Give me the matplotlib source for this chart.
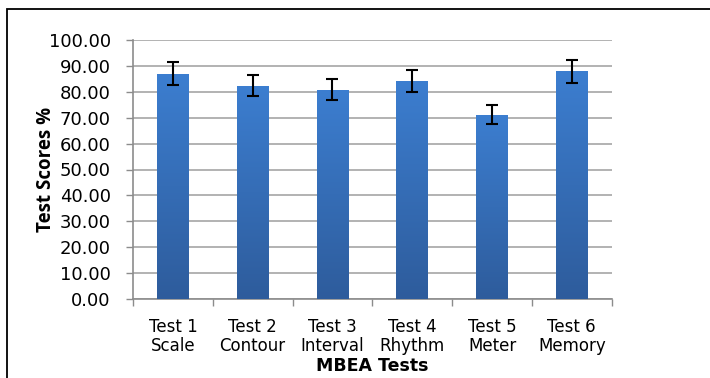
import numpy as np
import matplotlib
matplotlib.use('Agg')
import matplotlib.pyplot as plt
from matplotlib.colors import LinearSegmentedColormap
from matplotlib.patches import Rectangle

tests = ['Test 1\nScale', 'Test 2\nContour', 'Test 3\nInterval',
         'Test 4\nRhythm', 'Test 5\nMeter', 'Test 6\nMemory']
scores = [87.0, 82.4, 80.8, 84.3, 71.2, 87.9]
errors = [4.4, 4.2, 4.0, 4.3, 3.6, 4.4]

plt.rcParams['font.family'] = ['DejaVu Sans']

fig = plt.figure(figsize=(7.1, 3.78), dpi=100)
# document frame around the chart
fig.add_artist(Rectangle((7 / 710, -0.1), 1.2, 1 - 9 / 378 + 0.1,
                         transform=fig.transFigure, fill=False,
                         edgecolor='black', linewidth=1.3))

ax = fig.add_axes([133 / 710, 1 - 299 / 378, (611.7 - 133) / 710, (299 - 40) / 378])
x = np.arange(len(tests))
width = 0.4

cmap = LinearSegmentedColormap.from_list('bar', ['#2e5c9c', '#3c7ed0'])
grad = np.linspace(0, 1, 256).reshape(-1, 1)
bars = ax.bar(x, scores, width, color='none', zorder=3)
for b in bars:
    im = ax.imshow(grad, cmap=cmap, origin='lower', aspect='auto', zorder=3,
                   extent=[b.get_x(), b.get_x() + b.get_width(), 0, b.get_height()])
    im.set_clip_path(b)

ax.errorbar(x, scores, yerr=errors, fmt='none', ecolor='black',
            elinewidth=1.5, capsize=4, capthick=1.5, zorder=4)

ax.set_xlim(-0.5, len(tests) - 0.5)
ax.set_ylim(0, 100)
ax.set_yticks(np.arange(0, 101, 10))
ax.set_yticklabels([f'{v:.2f}' for v in np.arange(0, 101, 10)], fontsize=13)
ax.set_xticks(x)
ax.set_xticklabels(tests, fontsize=12, linespacing=1.05)
ax.set_xticks(np.arange(-0.5, len(tests), 1), minor=True)
ax.tick_params(axis='x', which='major', length=0, pad=14)
ax.tick_params(axis='x', which='minor', length=5, color='#8c8c8c', width=1)
ax.tick_params(axis='y', length=5, color='#8c8c8c', width=1, pad=11)

ax.grid(axis='y', color='#a6a6a6', linewidth=1.2, zorder=0)
ax.set_axisbelow(True)
for s in ['top', 'right']:
    ax.spines[s].set_visible(False)
for s in ['left', 'bottom']:
    ax.spines[s].set_color('#8c8c8c')
    ax.spines[s].set_linewidth(1.2)

ax.set_xlabel('MBEA Tests', fontsize=12.5, fontweight='bold', labelpad=1)
ax.set_ylabel('Test Scores %', fontsize=13.5, fontweight='bold', labelpad=-5,
              family='Open Sans')

fig.savefig('out.png', dpi=100)
